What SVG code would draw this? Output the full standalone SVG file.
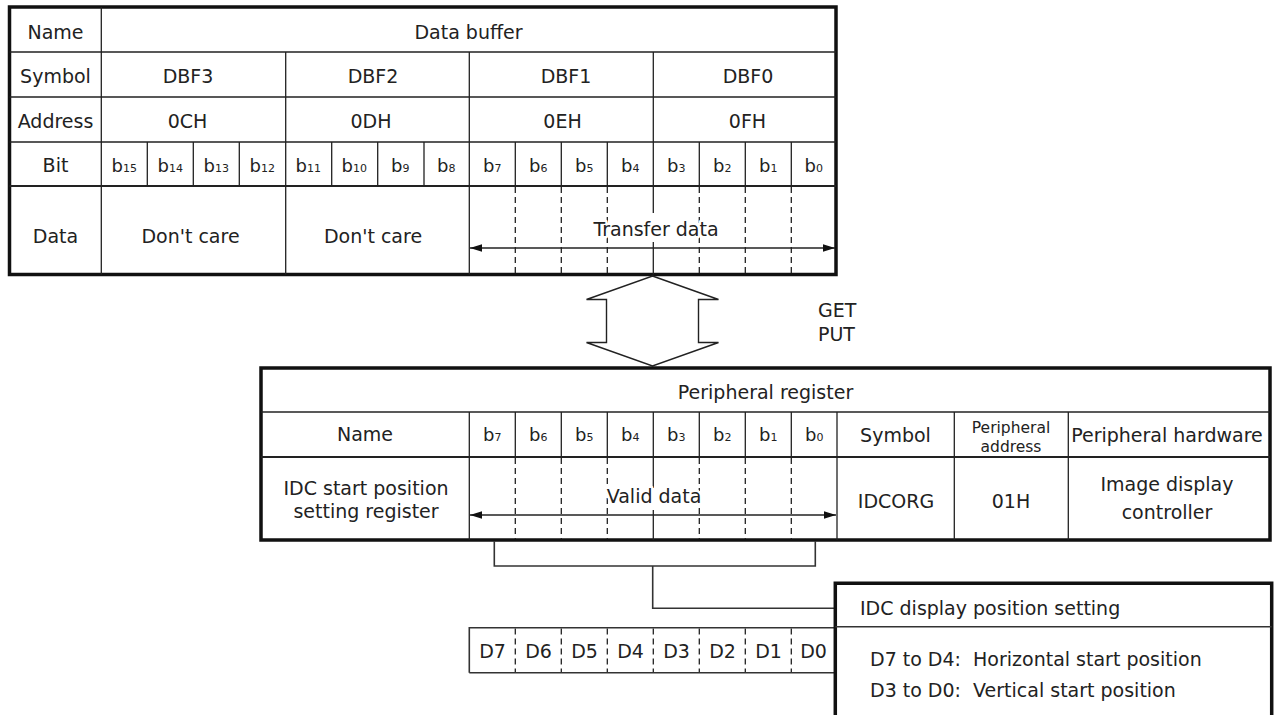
<svg xmlns="http://www.w3.org/2000/svg" width="1281" height="715" viewBox="0 0 1281 715">
<style>
text{font-family:"DejaVu Sans","Liberation Sans",sans-serif;font-size:19px;fill:#222;text-anchor:middle}
.st{text-anchor:start}
.sm{font-size:15.5px}
.b{font-size:18px}
.sub{font-size:11px}
.thick{fill:none;stroke:#111;stroke-width:3.5}
.thin{fill:none;stroke:#222;stroke-width:1.3}
.mid{fill:none;stroke:#222;stroke-width:2}
.dash{fill:none;stroke:#222;stroke-width:1.3;stroke-dasharray:6 4}
.conn{fill:none;stroke:#333;stroke-width:1.6}
.halo{paint-order:stroke;stroke:#fff;stroke-width:5px;stroke-linejoin:round}
</style>
<defs>
<marker id="ah" markerUnits="userSpaceOnUse" markerWidth="13" markerHeight="8" refX="12" refY="4" orient="auto-start-reverse">
<path d="M0,0.3 L12,4 L0,7.7 z" fill="#111"/>
</marker>
</defs>
<rect width="1281" height="715" fill="#fff"/>

<g id="data-buffer-table">
<rect class="thick" x="9.5" y="7" width="826.5" height="267.5"/>
<path class="thin" d="M101.3,7 V274.5 M9.5,52 H836 M9.5,97 H836 M9.5,142 H836"/>
<path class="mid" d="M9.5,186 H836"/>
<path class="thin" d="M285.7,52 V274.5 M469.3,52 V274.5 M653.3,52 V213 M653.3,242 V274.5"/>
<path class="thin" d="M147.3,142 V186 M193.3,142 V186 M239.3,142 V186 M331.7,142 V186 M377.7,142 V186 M424,142 V186 M515.3,142 V186 M561.3,142 V186 M607.3,142 V186 M699.3,142 V186 M745.3,142 V186 M791.3,142 V186"/>
<path class="dash" d="M515.3,187 V274 M561.3,187 V274 M607.3,187 V274 M699.3,187 V274 M745.3,187 V274 M791.3,187 V274"/>
<line class="thin" x1="470" y1="248" x2="835" y2="248" marker-start="url(#ah)" marker-end="url(#ah)"/>
<text x="55.5" y="39">Name</text>
<text x="468.5" y="39">Data buffer</text>
<text x="55.5" y="83">Symbol</text>
<text x="188" y="83">DBF3</text>
<text x="373" y="83">DBF2</text>
<text x="566" y="83">DBF1</text>
<text x="748" y="83">DBF0</text>
<text x="55.5" y="128">Address</text>
<text x="187.5" y="128">0CH</text>
<text x="371" y="128">0DH</text>
<text x="562.5" y="128">0EH</text>
<text x="747.5" y="128">0FH</text>
<text x="55.5" y="172">Bit</text>
<text class="b" x="124.3" y="172">b<tspan class="sub">15</tspan></text>
<text class="b" x="170.3" y="172">b<tspan class="sub">14</tspan></text>
<text class="b" x="216.3" y="172">b<tspan class="sub">13</tspan></text>
<text class="b" x="262.3" y="172">b<tspan class="sub">12</tspan></text>
<text class="b" x="308.3" y="172">b<tspan class="sub">11</tspan></text>
<text class="b" x="354.3" y="172">b<tspan class="sub">10</tspan></text>
<text class="b" x="400.3" y="172">b<tspan class="sub">9</tspan></text>
<text class="b" x="446.3" y="172">b<tspan class="sub">8</tspan></text>
<text class="b" x="492.3" y="172">b<tspan class="sub">7</tspan></text>
<text class="b" x="538.3" y="172">b<tspan class="sub">6</tspan></text>
<text class="b" x="584.3" y="172">b<tspan class="sub">5</tspan></text>
<text class="b" x="630.3" y="172">b<tspan class="sub">4</tspan></text>
<text class="b" x="676.3" y="172">b<tspan class="sub">3</tspan></text>
<text class="b" x="722.3" y="172">b<tspan class="sub">2</tspan></text>
<text class="b" x="768.3" y="172">b<tspan class="sub">1</tspan></text>
<text class="b" x="813.7" y="172">b<tspan class="sub">0</tspan></text>
<text x="55.5" y="243">Data</text>
<text x="190.5" y="243">Don't care</text>
<text x="373" y="243">Don't care</text>
<text class="halo" x="656" y="236">Transfer data</text>
</g>

<g id="get-put-arrow">
<polygon points="652.5,276 718.5,299.5 698.5,299.5 698.5,342.5 718.5,342.5 652.5,366 586.5,342.5 606.5,342.5 606.5,299.5 586.5,299.5" fill="#fff" stroke="#222" stroke-width="1.4" stroke-linejoin="miter"/>
<text class="st" x="818" y="317">GET</text>
<text class="st" x="818" y="341">PUT</text>
</g>

<g id="peripheral-register-table">
<rect class="thick" x="261" y="368" width="1009" height="172"/>
<path class="thin" d="M261,412 H1270"/>
<path class="mid" d="M261,457 H1270"/>
<path class="thin" d="M469.3,412 V540 M653.3,412 V488 M653.3,510 V540 M837,412 V540 M954.3,412 V540 M1068.3,412 V540"/>
<path class="thin" d="M515.3,412 V457 M561.3,412 V457 M607.3,412 V457 M699.3,412 V457 M745.3,412 V457 M791.3,412 V457"/>
<path class="dash" d="M515.3,458 V539 M561.3,458 V539 M607.3,458 V539 M699.3,458 V539 M745.3,458 V539 M791.3,458 V539"/>
<line class="thin" x1="470" y1="515" x2="836" y2="515" marker-start="url(#ah)" marker-end="url(#ah)"/>
<text x="765.5" y="399">Peripheral register</text>
<text x="365" y="441">Name</text>
<text class="b" x="492.3" y="441">b<tspan class="sub">7</tspan></text>
<text class="b" x="538.3" y="441">b<tspan class="sub">6</tspan></text>
<text class="b" x="584.3" y="441">b<tspan class="sub">5</tspan></text>
<text class="b" x="630.3" y="441">b<tspan class="sub">4</tspan></text>
<text class="b" x="676.3" y="441">b<tspan class="sub">3</tspan></text>
<text class="b" x="722.3" y="441">b<tspan class="sub">2</tspan></text>
<text class="b" x="768.3" y="441">b<tspan class="sub">1</tspan></text>
<text class="b" x="814.3" y="441">b<tspan class="sub">0</tspan></text>
<text x="895.5" y="442">Symbol</text>
<text class="sm" x="1011" y="432.5">Peripheral</text>
<text class="sm" x="1011" y="451.5">address</text>
<text x="1167" y="442">Peripheral hardware</text>
<text x="366" y="495">IDC start position</text>
<text x="366" y="518">setting register</text>
<text class="halo" x="654" y="503">Valid data</text>
<text x="896" y="508">IDCORG</text>
<text x="1011" y="508">01H</text>
<text x="1167" y="491">Image display</text>
<text x="1167" y="519">controller</text>
</g>

<g id="connectors">
<path class="conn" d="M494.3,541 V566 H815.3 V541"/>
<path class="conn" d="M652.7,566 V608.3 H835"/>
</g>

<g id="data-bits-row">
<path class="conn" d="M469.3,672.7 V627.7 H835 M469.3,672.7 H835"/>
<path class="dash" d="M515.3,628.5 V672 M561.3,628.5 V672 M607.3,628.5 V672 M653.3,628.5 V672 M699.3,628.5 V672 M745.3,628.5 V672 M791.3,628.5 V672"/>
<text x="492.5" y="658">D7</text>
<text x="538.5" y="658">D6</text>
<text x="584.5" y="658">D5</text>
<text x="630.5" y="658">D4</text>
<text x="676.5" y="658">D3</text>
<text x="722.5" y="658">D2</text>
<text x="768.5" y="658">D1</text>
<text x="813.5" y="658">D0</text>
</g>

<g id="idc-display-position-box">
<path class="thick" d="M835.3,720 V583.3 H1271.7 V720"/>
<path class="conn" d="M835.3,626.7 H1271.7"/>
<text class="st" x="860" y="615">IDC display position setting</text>
<text class="st" x="870" y="666" xml:space="preserve">D7 to D4:  Horizontal start position</text>
<text class="st" x="870" y="697" xml:space="preserve">D3 to D0:  Vertical start position</text>
</g>
</svg>
